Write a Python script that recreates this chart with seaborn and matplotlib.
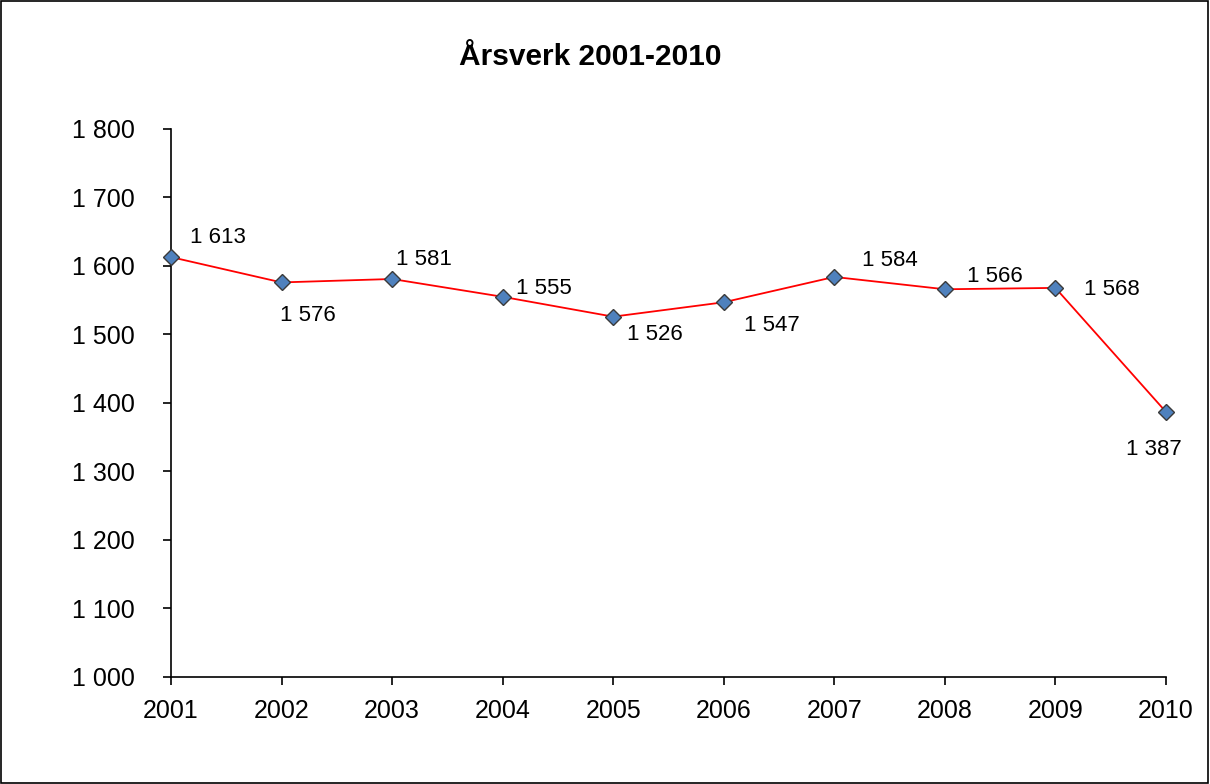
import pandas as pd
import matplotlib.pyplot as plt
import matplotlib.ticker as mticker
from matplotlib.patches import Rectangle
import seaborn as sns

# Data
years = [2001, 2002, 2003, 2004, 2005, 2006, 2007, 2008, 2009, 2010]
arsverk = [1613, 1576, 1581, 1555, 1526, 1547, 1584, 1566, 1568, 1387]
# label offsets (points) relative to each marker
label_dx = [34, 19, 23, 30, 30, 35, 40, 36, 41, -9]
label_dy = [14, -24, 14, 6, -13, -17, 12, 9, -1, -27]

df = pd.DataFrame({'År': years, 'Årsverk': arsverk})

sns.set_style('ticks')
plt.rcParams['font.family'] = ['Liberation Sans', 'DejaVu Sans']
plt.rcParams['text.color'] = 'black'

fig = plt.figure(figsize=(12.1, 7.84), dpi=100)
ax = fig.add_axes([0.1413, 0.1365, 0.8223, 0.699])

sns.lineplot(data=df, x='År', y='Årsverk', ax=ax, color='#FF0000', linewidth=1.3,
             marker='D', markersize=8, markerfacecolor='#4F81BD',
             markeredgecolor='#3A3A3A', markeredgewidth=1.0, clip_on=False, zorder=3)

for x, y, dx, dy in zip(years, arsverk, label_dx, label_dy):
    ax.annotate(f'{y:,}'.replace(',', ' '), (x, y), xytext=(dx, dy),
                textcoords='offset points', ha='center', va='center',
                fontsize=16, color='black')

ax.set_xlim(2001, 2010)
ax.set_ylim(1000, 1800)
ax.set_xticks(years)
ax.set_yticks(range(1000, 1801, 100))
ax.yaxis.set_major_formatter(mticker.FuncFormatter(lambda v, p: f'{int(v):,}'.replace(',', ' ')))
ax.tick_params(axis='both', labelsize=18, length=6, width=1.2, color='black', labelcolor='black')
ax.tick_params(axis='x', pad=10)
ax.tick_params(axis='y', pad=20)
ax.set_xlabel('')
ax.set_ylabel('')
for s in ['top', 'right']:
    ax.spines[s].set_visible(False)
for s in ['left', 'bottom']:
    ax.spines[s].set_color('black')
    ax.spines[s].set_linewidth(1.2)

fig.text(0.488, 0.927, 'Årsverk 2001-2010', ha='center', va='center',
         fontsize=21.5, fontweight='bold', color='black')

# outer frame like the chart area border
fig.patches.append(Rectangle((0.0005, 0.001), 0.998, 0.998, transform=fig.transFigure,
                             fill=False, edgecolor='black', linewidth=1.2))

fig.savefig('out.png', dpi=100)
